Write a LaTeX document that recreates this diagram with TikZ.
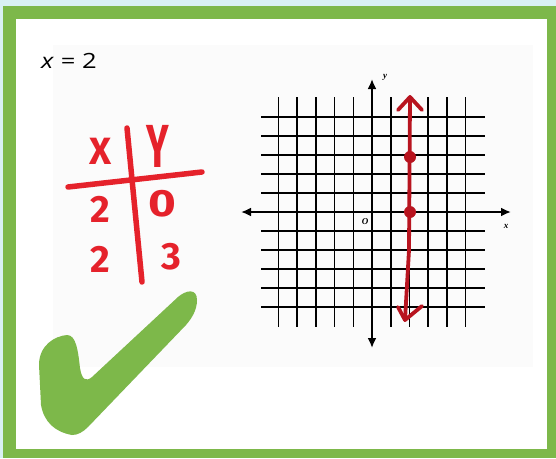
\documentclass[tikz,border=0pt]{standalone}
\usepackage{fontspec}
\setmainfont{Open Sans}
\newfontfamily\handfont{Fira Sans}
\newfontfamily\axisfont{Liberation Serif}
\usetikzlibrary{arrows.meta}
\definecolor{frameg}{HTML}{7DB84A}
\definecolor{bgc}{HTML}{D9F1F3}
\definecolor{penred}{HTML}{E5222B}
\definecolor{linered}{HTML}{B8141F}
\begin{document}
\begin{tikzpicture}[x=1pt,y=-1pt,
  gridline/.style={line width=1.6pt,black},
  axisline/.style={line width=2.4pt,black,{Latex[length=10pt,width=9pt]}-{Latex[length=10pt,width=9pt]}},
  axislabel/.style={font=\axisfont\itshape\bfseries\fontsize{9}{10}\selectfont,inner sep=0pt},
  redline/.style={line width=3.8pt,linered,line cap=round,line join=round},
  reddot/.style={circle,fill=linered,minimum size=12pt,inner sep=0pt},
  pen/.style={line width=5.5pt,penred,line cap=round},
  hand/.style={font=\handfont\bfseries\fontsize{38}{42}\selectfont,text=penred,inner sep=0pt}]
\useasboundingbox (0,0) rectangle (556,458);
% frame
\fill[bgc] (0,0) rectangle (556,458);
\fill[frameg] (3,6) rectangle (556,458);
\fill[white] (16,19) rectangle (547,449);
\fill[black!1.5] (53,45) rectangle (533,367);
% equation
\node[anchor=base west,font=\fontsize{21}{25}\selectfont,inner sep=0pt] (eq) at (41,68) {\scalebox{1.22}[1]{\textit{x} = 2}};
% table
\coordinate (hl) at (68,187); \coordinate (hr) at (202,172);
\coordinate (vt) at (127,128); \coordinate (vb) at (142,282);
\draw[pen] (hl) -- (hr);
\draw[pen] (vt) -- (vb);
\node[hand] (tx) at (101,151) {X};
\node[hand] (ty) at (158,146) {\scalebox{1}[1.6]{Y}};
\node[hand] (t2a) at (100,209) {2};
\node[hand] (t0) at (162,204) {\scalebox{1.25}[1]{0}};
\node[hand] (t2b) at (100,259) {2};
\node[hand] (t3) at (171,257) {3};
% grid
\foreach \i in {-5,-4,-3,-2,-1,1,2,3,4,5}
  \draw[gridline] ({372+18.7*\i},97) -- ({372+18.7*\i},327);
\foreach \j in {-5,-4,-3,-2,-1,1,2,3,4,5}
  \draw[gridline] (261,{212-19*\j}) -- (485,{212-19*\j});
\coordinate (xl) at (241,212); \coordinate (xr) at (511,212);
\coordinate (yt) at (372,79); \coordinate (yb) at (372,348);
\draw[axisline] (xl) -- (xr);
\draw[axisline] (yb) -- (yt);
\node[axislabel] (ylab) at (385,77) {y};
\node[axislabel] (xlab) at (506,226) {x};
\node[axislabel] (olab) at (365,222) {O};
% red line
\coordinate (rt) at (410,97); \coordinate (rb) at (405,320);
\draw[redline] (rt) -- (409,250) -- (rb);
\draw[redline] (398,110) -- (rt) -- (422,110);
\draw[redline] (398,307) -- (rb) -- (422,306);
\node[reddot] (p1) at (410,157) {};
\node[reddot] (p2) at (410,212) {};
% check mark
\fill[frameg] (72,435) .. controls (55,432) and (44,422) .. (41,405)
  -- (39,365) .. controls (39,345) and (55,336) .. (67,335)
  .. controls (76,335) and (78,350) .. (80,368)
  .. controls (82,380) and (86,382) .. (92,377)
  -- (178,297) .. controls (186,290) and (197,288) .. (197,300)
  .. controls (197,310) and (192,318) .. (186,325)
  -- (88,427) .. controls (83,432) and (78,435) .. (72,435) -- cycle;
\end{tikzpicture}
\end{document}
